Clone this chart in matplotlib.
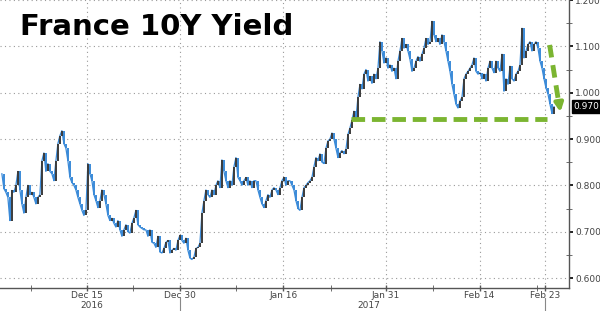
"""
France 10Y government bond yield, Dec 2016 - Feb 2017
"""

import matplotlib

matplotlib.use("Agg")
import numpy as np
from matplotlib import pyplot as plt

closes_dec = [
    0.825, 0.793, 0.785, 0.774, 0.724, 0.789, 0.785, 0.800, 0.830, 0.790,
    0.760, 0.740, 0.774, 0.800, 0.780, 0.785, 0.774, 0.760, 0.774, 0.780,
    0.853, 0.870, 0.830, 0.847, 0.830, 0.825, 0.810, 0.853, 0.890, 0.907,
    0.918, 0.890, 0.880, 0.853, 0.817, 0.806, 0.800, 0.790, 0.774, 0.760,
    0.746, 0.735, 0.746, 0.847, 0.825, 0.810, 0.780, 0.767, 0.752,
    0.767, 0.790, 0.780, 0.760, 0.735, 0.724, 0.729, 0.718, 0.710, 0.724,
    0.704, 0.690, 0.704, 0.715, 0.700, 0.697, 0.718, 0.730, 0.746, 0.715,
    0.710, 0.707, 0.704, 0.704, 0.690, 0.704, 0.677, 0.675, 0.666, 0.690,
    0.656, 0.654, 0.664, 0.677, 0.681, 0.654, 0.660, 0.664, 0.660, 0.681,
    0.692, 0.681, 0.675, 0.686, 0.660, 0.643, 0.640, 0.645, 0.664, 0.666,
    0.675,
]
closes_jan = [
    0.740, 0.767, 0.790, 0.780, 0.774, 0.790, 0.780, 0.800, 0.810, 0.795,
    0.855, 0.830, 0.810, 0.795, 0.810, 0.800, 0.840, 0.860, 0.817, 0.810,
    0.800, 0.810, 0.817, 0.800, 0.810, 0.795, 0.810, 0.810, 0.790, 0.774,
    0.760, 0.752, 0.767, 0.780, 0.774, 0.790, 0.795, 0.790, 0.780, 0.795,
    0.810, 0.817, 0.800, 0.810, 0.810, 0.800, 0.790, 0.767, 0.750, 0.746,
    0.774, 0.795, 0.800, 0.806, 0.810, 0.817, 0.840, 0.860, 0.853, 0.868,
    0.850, 0.847, 0.880, 0.896, 0.900, 0.913, 0.900, 0.880, 0.860, 0.870,
    0.875, 0.868, 0.878, 0.910, 0.924, 0.940, 0.960, 0.945, 0.990, 1.018,
    1.008, 1.040, 1.050, 1.025, 1.035, 1.020, 1.040, 1.030, 1.053, 1.110,
    1.090, 1.064, 1.075, 1.053, 1.060, 1.046, 1.053, 1.030, 1.068, 1.090,
]
closes_feb = [
    1.117, 1.096, 1.104, 1.090, 1.072, 1.046, 1.053, 1.068, 1.078, 1.068,
    1.083, 1.096, 1.117, 1.104, 1.110, 1.154, 1.125, 1.110, 1.117, 1.104,
    1.125, 1.110, 1.090, 1.068, 1.046, 1.018, 0.997, 0.975, 0.967, 0.982,
    0.990, 1.030, 1.040, 1.046, 1.053, 1.060, 1.075, 1.046, 1.040, 1.043,
    1.030, 1.040, 1.025, 1.053, 1.068, 1.053, 1.043, 1.068, 1.053, 1.046,
    1.083, 1.003, 1.030, 1.018, 1.057, 1.030, 1.025, 1.040, 1.046, 1.060,
    1.139, 1.075, 1.090, 1.104, 1.110, 1.090, 1.104, 1.110, 1.096, 1.068,
    1.053, 1.030, 1.010, 0.997, 0.975, 0.955, 0.970,
]

# x axis in trading days counted from Dec 15 2016
tick_days = [0, 10, 21, 32, 42, 49]
tick_labels = ["Dec 15", "Dec 30", "Jan 16", "Jan 31", "Feb 14", "Feb 23"]
minor_days = [-6, 4.9, 16, 26.1, 37, 48.1]
year_labels = ["2016", "2017"]
year_days = [0.5, 30.2]
y_ticks = [0.6, 0.7, 0.8, 0.9, 1.0, 1.1, 1.2]
support_level = 0.943
last_value = 0.970

FIRST_DAY = -9.1
STEP = 0.214
Y_MIN, Y_MAX = 0.5785, 1.2
BLUE = "#3a8ad8"
DARK = "#3b3b3b"
GREEN = "#7bb531"


def main():
    closes = np.array(closes_dec + closes_jan + closes_feb)
    days = FIRST_DAY + STEP * np.arange(len(closes))

    fig = plt.figure(figsize=(6.0, 3.11), dpi=100)
    ax = fig.add_axes([0.0, 0.074, 0.948, 0.926])

    # thin line through closes plus up/down bars
    ax.plot(days, closes, color=BLUE, lw=0.9, zorder=3)
    opens = np.r_[closes[0], closes[:-1]]
    up = closes >= opens
    ax.vlines(days[up], opens[up], closes[up], color=DARK, lw=1.4, zorder=4)
    ax.vlines(days[~up], opens[~up], closes[~up], color=BLUE, lw=1.4, zorder=4)

    # green support line and falling arrow
    ax.plot([28.3, 49.2], [support_level, support_level], color=GREEN,
            lw=3.5, dashes=(2.8, 1.4), solid_capstyle="butt", zorder=5)
    ax.plot([49.5, 50.5], [1.103, 0.975], color=GREEN, lw=3.5,
            dashes=(2.6, 1.6), zorder=5)
    ax.annotate("", xy=(50.7, 0.952), xytext=(50.45, 0.985),
                arrowprops=dict(arrowstyle="-|>", color=GREEN, lw=3,
                                mutation_scale=12), zorder=5)

    ax.set_xlim(-9.3, 51.55)
    ax.set_ylim(Y_MIN, Y_MAX)

    ax.yaxis.tick_right()
    ax.set_yticks(y_ticks)
    ax.set_yticklabels([f"{v:.3f}" for v in y_ticks])
    ax.set_yticks([0.65, 0.75, 0.85, 0.95, 1.05, 1.15], minor=True)
    ax.set_xticks(tick_days)
    ax.set_xticklabels(tick_labels)
    ax.set_xticks(minor_days, minor=True)

    ax.tick_params(axis="y", which="major", labelsize=6.5,
                   labelcolor="#444444", color="#222222", width=1.4,
                   length=3, pad=1.5)
    ax.tick_params(axis="x", which="major", labelsize=6.5,
                   labelcolor="#444444", color="#555555", width=1.0,
                   length=4, direction="inout", pad=0.5)
    ax.tick_params(axis="both", which="minor", color="#555555", length=4,
                   direction="inout")
    ax.grid(True, which="major", color="#9a9a9a", lw=0.8, ls=(0, (1, 3)))

    for side in ["top", "left"]:
        ax.spines[side].set_visible(False)
    for side in ["bottom", "right"]:
        ax.spines[side].set_color("#555555")
        ax.spines[side].set_linewidth(1.0)

    # year labels and separators under the axis
    trans = ax.get_xaxis_transform()
    for label, day in zip(year_labels, year_days):
        ax.text(day, -0.069, label, transform=trans, ha="center",
                va="baseline", fontsize=6.5, color="#444444")
    for day in [10, 49]:
        ax.plot([day, day], [-0.035, -0.09], transform=trans, color="#888888",
                lw=0.8, clip_on=False)

    # last value box
    ax.text(1.008, (last_value - Y_MIN) / (Y_MAX - Y_MIN), f"{last_value:.3f}",
            transform=ax.transAxes, ha="left", va="center", fontsize=6.5,
            color="white",
            bbox=dict(boxstyle="square,pad=0.2", fc="black", ec="black"))

    ax.text(0.035, 0.955, "France 10Y Yield", transform=ax.transAxes,
            ha="left", va="top", fontsize=21, fontweight="bold",
            color="black", zorder=6)

    fig.savefig("out.png", dpi=100)


if __name__ == "__main__":
    main()
